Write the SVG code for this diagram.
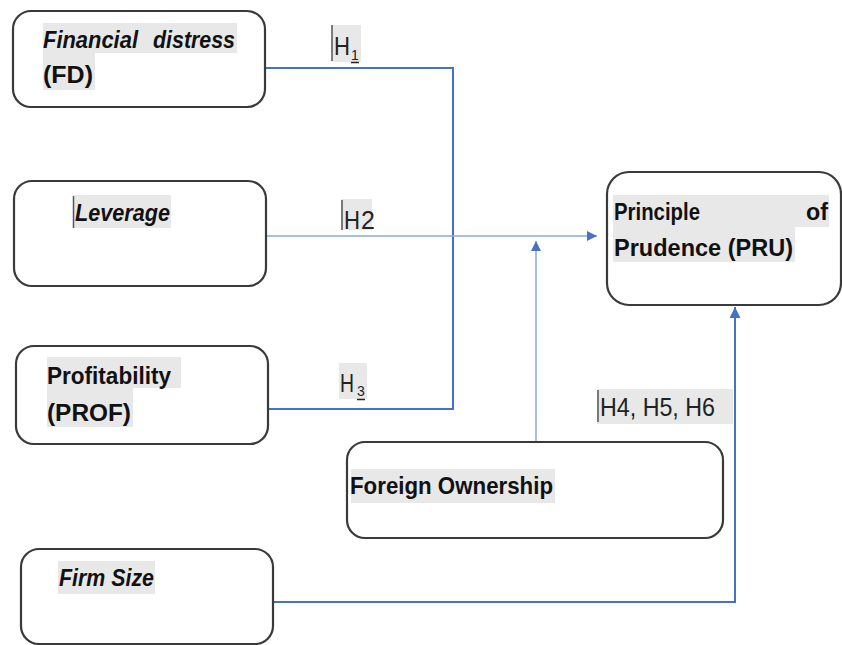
<svg xmlns="http://www.w3.org/2000/svg" width="842" height="645" viewBox="0 0 842 645">
<style>
.box{fill:#fff;stroke:#3a3a3a;stroke-width:2.2}
.hl{fill:#e8e8e8}
.t{font-family:"Liberation Sans",Arial,sans-serif;font-weight:bold;font-size:23px;fill:#111}
.i{font-style:italic}
.h{font-family:"Liberation Sans",Arial,sans-serif;font-size:25px;fill:#222}
.hs{font-family:"Liberation Sans",Arial,sans-serif;font-size:14px;fill:#222}
.bar{stroke:#555;stroke-width:1.5}
.dark{fill:none;stroke:#4472c4;stroke-width:2}
.light{fill:none;stroke:#8aa8e0;stroke-width:1.5}
</style>
<defs>
<marker id="ah" viewBox="0 0 10 10" refX="10" refY="5" markerWidth="10" markerHeight="10" markerUnits="userSpaceOnUse" orient="auto">
<path d="M0,0 L10,5 L0,10 z" fill="#4472c4"/>
</marker>
<marker id="ah2" viewBox="0 0 10 10" refX="10" refY="5" markerWidth="11" markerHeight="11" markerUnits="userSpaceOnUse" orient="auto">
<path d="M0,0 L10,5 L0,10 z" fill="#4472c4"/>
</marker>
</defs>
<rect width="842" height="645" fill="#fff"/>

<g id="connectors">
<polyline class="dark" points="265,68 453,68 453,409 268,409"/>
<line class="light" x1="266" y1="236" x2="597" y2="236" marker-end="url(#ah)"/>
<line class="light" x1="536" y1="442" x2="536" y2="241" marker-end="url(#ah)"/>
<polyline class="dark" points="273,602 735,602 735,307" marker-end="url(#ah2)"/>
<g id="lbl-h1">
<rect class="hl" x="332" y="25" width="29" height="37"/>
<line class="bar" x1="332" y1="25" x2="332" y2="61"/>
<text class="h" x="334" y="55" textLength="16" lengthAdjust="spacingAndGlyphs">H</text>
<text class="hs" x="351" y="60">1</text>
<line x1="351" y1="62.5" x2="359" y2="62.5" stroke="#222" stroke-width="1.5"/>
</g>
<g id="lbl-h2">
<rect class="hl" x="341" y="199" width="31" height="31"/>
<line class="bar" x1="342" y1="200" x2="342" y2="230"/>
<text class="h" x="344" y="229" textLength="16" lengthAdjust="spacingAndGlyphs">H</text>
<text class="h" x="361" y="229" font-size="17">2</text>
</g>
<g id="lbl-h3">
<rect class="hl" x="339" y="363" width="28" height="36"/>
<text class="h" x="340" y="392" textLength="14" lengthAdjust="spacingAndGlyphs">H</text>
<text class="hs" x="357" y="396">3</text>
<line x1="357" y1="399.5" x2="365" y2="399.5" stroke="#222" stroke-width="1.5"/>
</g>
<g id="lbl-h456">
<rect class="hl" x="597" y="389" width="136" height="35"/>
<line class="bar" x1="598" y1="390" x2="598" y2="422"/>
<text class="h" x="600" y="416" font-size="21" textLength="115" lengthAdjust="spacingAndGlyphs">H4, H5, H6</text>
</g>
</g>

<g id="node-fd">
<rect class="box" x="13" y="11" width="252" height="96" rx="18"/>
<rect class="hl" x="43" y="23" width="194" height="30"/>
<rect class="hl" x="43" y="53" width="52" height="37"/>
<text class="t i" x="43" y="48"><tspan textLength="95" lengthAdjust="spacingAndGlyphs">Financial</tspan><tspan x="153" textLength="82" lengthAdjust="spacingAndGlyphs">distress</tspan></text>
<text class="t" x="43" y="83" textLength="50" lengthAdjust="spacingAndGlyphs">(FD)</text>
</g>

<g id="node-lev">
<rect class="box" x="14" y="181" width="252" height="105" rx="18"/>
<rect class="hl" x="73" y="195" width="98" height="33"/>
<line class="bar" x1="73.5" y1="196" x2="73.5" y2="228"/>
<text class="t i" x="75" y="221" textLength="95" lengthAdjust="spacingAndGlyphs">Leverage</text>
</g>

<g id="node-prof">
<rect class="box" x="16" y="346" width="252" height="98" rx="18"/>
<rect class="hl" x="47" y="357" width="134" height="31"/>
<rect class="hl" x="47" y="388" width="86" height="39"/>
<text class="t" x="47" y="384" textLength="124" lengthAdjust="spacingAndGlyphs">Profitability</text>
<text class="t" x="47" y="421" textLength="84" lengthAdjust="spacingAndGlyphs">(PROF)</text>
</g>

<g id="node-fo">
<rect class="box" x="347" y="442" width="376" height="96" rx="18"/>
<rect class="hl" x="351" y="469" width="204" height="34"/>
<text class="t" x="350" y="494" textLength="203" lengthAdjust="spacingAndGlyphs">Foreign Ownership</text>
</g>

<g id="node-fs">
<rect class="box" x="21" y="549" width="252" height="95" rx="18"/>
<rect class="hl" x="58" y="561" width="97" height="33"/>
<text class="t i" x="59" y="586" textLength="95" lengthAdjust="spacingAndGlyphs">Firm Size</text>
</g>

<g id="node-pru">
<rect class="box" x="607" y="172" width="234" height="133" rx="22"/>
<rect class="hl" x="613" y="195" width="216" height="32"/>
<rect class="hl" x="613" y="227" width="182" height="35"/>
<text class="t" x="614" y="220" textLength="86" lengthAdjust="spacingAndGlyphs">Principle</text>
<text class="t" x="806" y="220" textLength="22" lengthAdjust="spacingAndGlyphs">of</text>
<text class="t" x="614" y="256" textLength="179" lengthAdjust="spacingAndGlyphs">Prudence (PRU)</text>
</g>
</svg>
